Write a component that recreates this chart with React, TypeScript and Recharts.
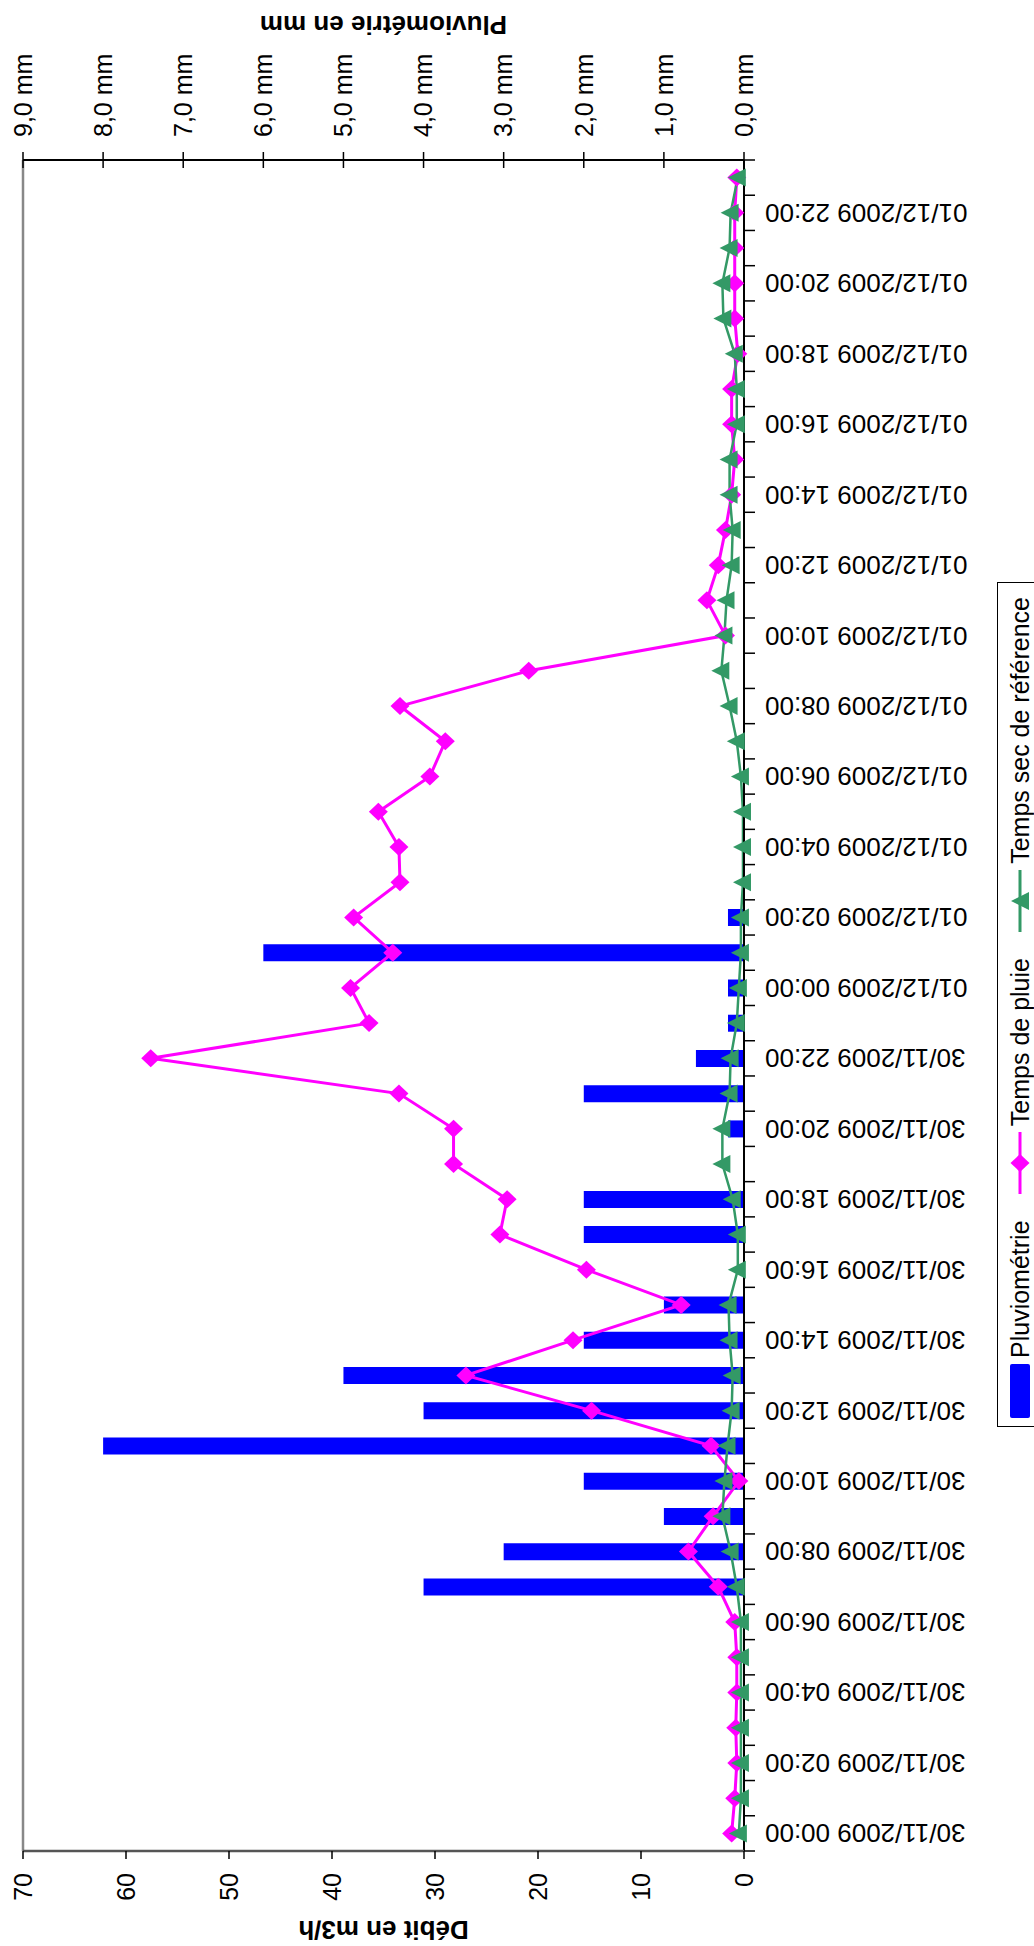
import { Bar, ComposedChart, Legend, Line, ReferenceLine, XAxis, YAxis } from 'recharts';

const FONT = '"Liberation Sans", Arial, sans-serif';
const BLUE = '#0000ff';
const MAGENTA = '#ff00ff';
const GREEN = '#339966';

// chart is drawn landscape, then turned a quarter turn to the left
const W = 1946;
const H = 1034;
const LEFT_W = 95;
const RIGHT_W = 160;
const XAXIS_H = 290;
const TOP = 23;
const BAND = (W - LEFT_W - RIGHT_W) / 48;

const hours = [
  '30/11/2009 00:00', '30/11/2009 01:00', '30/11/2009 02:00', '30/11/2009 03:00', '30/11/2009 04:00', '30/11/2009 05:00',
  '30/11/2009 06:00', '30/11/2009 07:00', '30/11/2009 08:00', '30/11/2009 09:00', '30/11/2009 10:00', '30/11/2009 11:00',
  '30/11/2009 12:00', '30/11/2009 13:00', '30/11/2009 14:00', '30/11/2009 15:00', '30/11/2009 16:00', '30/11/2009 17:00',
  '30/11/2009 18:00', '30/11/2009 19:00', '30/11/2009 20:00', '30/11/2009 21:00', '30/11/2009 22:00', '30/11/2009 23:00',
  '01/12/2009 00:00', '01/12/2009 01:00', '01/12/2009 02:00', '01/12/2009 03:00', '01/12/2009 04:00', '01/12/2009 05:00',
  '01/12/2009 06:00', '01/12/2009 07:00', '01/12/2009 08:00', '01/12/2009 09:00', '01/12/2009 10:00', '01/12/2009 11:00',
  '01/12/2009 12:00', '01/12/2009 13:00', '01/12/2009 14:00', '01/12/2009 15:00', '01/12/2009 16:00', '01/12/2009 17:00',
  '01/12/2009 18:00', '01/12/2009 19:00', '01/12/2009 20:00', '01/12/2009 21:00', '01/12/2009 22:00', '01/12/2009 23:00',
];

// mm
const pluviometrie = [
  0, 0, 0, 0, 0, 0, 0, 4.0, 3.0, 1.0, 2.0, 8.0,
  4.0, 5.0, 2.0, 1.0, 0, 2.0, 2.0, 0, 0.2, 2.0, 0.6, 0.2,
  0.2, 6.0, 0.2, 0, 0, 0, 0, 0, 0, 0, 0, 0,
  0, 0, 0, 0, 0, 0, 0, 0, 0, 0, 0, 0,
];

// m3/h
const tempsPluie = [
  1.2, 0.9, 0.7, 0.8, 0.7, 0.7, 0.9, 2.5, 5.4, 3.0, 0.5, 3.2,
  14.8, 27.0, 16.6, 6.1, 15.3, 23.7, 23.0, 28.2, 28.2, 33.5, 57.6, 36.4,
  38.2, 34.1, 37.9, 33.4, 33.5, 35.5, 30.5, 29.0, 33.4, 20.9, 1.8, 3.6,
  2.5, 1.8, 1.2, 0.9, 1.2, 1.2, 0.6, 0.9, 0.9, 0.9, 0.9, 0.7,
];

const tempsSec = [
  0.5, 0.3, 0.3, 0.3, 0.3, 0.3, 0.3, 0.7, 1.3, 2.1, 1.9, 1.6,
  1.2, 1.1, 1.4, 1.5, 0.6, 0.6, 1.1, 2.1, 2.1, 1.4, 1.3, 0.7,
  0.5, 0.3, 0.3, 0.1, 0.1, 0.1, 0.3, 0.7, 1.4, 2.2, 1.9, 1.7,
  1.2, 1.1, 1.4, 1.4, 0.7, 0.7, 0.9, 2.0, 2.1, 1.4, 1.3, 0.6,
];

const debitTicks = [0, 10, 20, 30, 40, 50, 60, 70];
const pluvioTicks = [0, 1, 2, 3, 4, 5, 6, 7, 8, 9];

const data = hours.map((h, i) => ({
  label: h,
  pluvio: pluviometrie[i],
  pluie: tempsPluie[i],
  sec: tempsSec[i],
}));

const diamond = (cx: number, cy: number) => `M${cx},${cy - 9.5}L${cx + 9},${cy}L${cx},${cy + 9.5}L${cx - 9},${cy}Z`;
const triangle = (cx: number, cy: number) => `M${cx},${cy - 10}L${cx + 9},${cy + 8}L${cx - 9},${cy + 8}Z`;

const DiamondDot = (props: any) => {
  const { cx, cy, index } = props;
  if (cx == null || cy == null) return <g key={`d${index}`} />;
  return <path key={`d${index}`} d={diamond(cx, cy)} fill={MAGENTA} />;
};

const TriangleDot = (props: any) => {
  const { cx, cy, index } = props;
  if (cx == null || cy == null) return <g key={`t${index}`} />;
  return <path key={`t${index}`} d={triangle(cx, cy)} fill={GREEN} />;
};

const TimeTick = (props: any) => {
  const { x, y, payload, index } = props;
  return (
    <g>
      <line x1={x - BAND / 2} x2={x - BAND / 2} y1={y} y2={y + 11} stroke="#000" strokeWidth={1.5} />
      {index === hours.length - 1 && (
        <line x1={x + BAND / 2} x2={x + BAND / 2} y1={y} y2={y + 11} stroke="#000" strokeWidth={1.5} />
      )}
      {index % 2 === 0 && (
        <text
          x={x}
          y={y + 21}
          dy="0.35em"
          textAnchor="end"
          transform={`rotate(-90, ${x}, ${y + 21})`}
          fontFamily={FONT}
          fontSize={26}
          fill="#000"
        >
          {payload.value}
        </text>
      )}
    </g>
  );
};

const PluvioTick = (props: any) => {
  const { x, y, payload } = props;
  return (
    <g>
      <line x1={x - 8} x2={x + 8} y1={y} y2={y} stroke="#000" strokeWidth={1.5} />
      <text x={x + 23} y={y} dy="0.35em" textAnchor="start" fontFamily={FONT} fontSize={25} fill="#000">
        {`${payload.value.toFixed(1).replace('.', ',')} mm`}
      </text>
    </g>
  );
};

const axisTitle = (text: string, dxFromAxisBox: number) => (props: any) => {
  const { viewBox } = props;
  const x = viewBox.x + dxFromAxisBox;
  const y = viewBox.y + viewBox.height / 2;
  return (
    <text
      x={x}
      y={y}
      dy="0.35em"
      textAnchor="middle"
      transform={`rotate(-90, ${x}, ${y})`}
      fontFamily={FONT}
      fontSize={26}
      fontWeight="bold"
      fill="#000"
    >
      {text}
    </text>
  );
};

const LegendMarker = ({ dataKey }: { dataKey: string }) => {
  if (dataKey === 'pluvio') {
    return (
      <svg width={54} height={20}>
        <rect x={0} y={0} width={54} height={20} rx={2} fill={BLUE} />
      </svg>
    );
  }
  const color = dataKey === 'pluie' ? MAGENTA : GREEN;
  return (
    <svg width={62} height={24}>
      <line x1={0} x2={62} y1={12} y2={12} stroke={color} strokeWidth={3} />
      <path d={dataKey === 'pluie' ? diamond(31, 12) : triangle(31, 13)} fill={color} />
    </svg>
  );
};

const LegendBox = (props: any) => {
  const { payload = [] } = props;
  return (
    <div
      style={{
        display: 'flex',
        alignItems: 'center',
        justifyContent: 'space-between',
        border: '1.5px solid #000',
        background: '#fff',
        height: 46,
        padding: '0 14px 0 8px',
        boxSizing: 'border-box',
        fontFamily: FONT,
        fontSize: 25,
        color: '#000',
      }}
    >
      {payload.map((entry: any) => (
        <div key={entry.dataKey} style={{ display: 'flex', alignItems: 'center' }}>
          <LegendMarker dataKey={entry.dataKey} />
          <span style={{ marginLeft: 6, whiteSpace: 'nowrap' }}>{entry.value}</span>
        </div>
      ))}
    </div>
  );
};

export default function App() {
  return (
    <div style={{ width: H, height: W, position: 'relative', overflow: 'hidden', background: '#fff' }}>
      <style>{'body{margin:0}'}</style>
      <div
        style={{
          position: 'absolute',
          left: 0,
          top: 0,
          width: W,
          height: H,
          transformOrigin: '0 0',
          transform: `translateY(${W}px) rotate(-90deg)`,
        }}
      >
        <ComposedChart width={W} height={H} data={data} margin={{ top: TOP, right: 0, bottom: 0, left: 0 }}>
          <XAxis
            dataKey="label"
            height={XAXIS_H}
            interval={0}
            tickSize={0}
            tickMargin={0}
            tickLine={false}
            tick={TimeTick}
            axisLine={{ stroke: '#000', strokeWidth: 2 }}
          />
          <YAxis
            yAxisId="debit"
            width={LEFT_W}
            domain={[0, 70]}
            ticks={debitTicks}
            tickSize={8}
            tickMargin={14}
            tickLine={{ stroke: '#000', strokeWidth: 1.5 }}
            axisLine={{ stroke: '#555', strokeWidth: 2.5 }}
            tick={{ fill: '#000', fontSize: 25, fontFamily: FONT }}
            label={{ content: axisTitle('Débit en m3/h', 16) }}
          />
          <YAxis
            yAxisId="pluvio"
            orientation="right"
            width={RIGHT_W}
            domain={[0, 9]}
            ticks={pluvioTicks}
            tickSize={0}
            tickMargin={0}
            tickLine={false}
            tick={PluvioTick}
            axisLine={{ stroke: '#000', strokeWidth: 2 }}
            label={{ content: axisTitle('Pluviométrie en mm', 135) }}
          />
          <ReferenceLine yAxisId="debit" y={70} stroke="#888" strokeWidth={2.5} />
          <Legend
            layout="horizontal"
            verticalAlign="middle"
            align="center"
            content={LegendBox}
            wrapperStyle={{ left: 519, top: 997, width: 845, height: 46 }}
          />
          <Bar yAxisId="pluvio" dataKey="pluvio" name="Pluviométrie" fill={BLUE} barSize={17} isAnimationActive={false} />
          <Line
            yAxisId="debit"
            dataKey="pluie"
            name="Temps de pluie"
            stroke={MAGENTA}
            strokeWidth={3}
            dot={DiamondDot}
            activeDot={false}
            isAnimationActive={false}
          />
          <Line
            yAxisId="debit"
            dataKey="sec"
            name="Temps sec de référence"
            stroke={GREEN}
            strokeWidth={2.5}
            dot={TriangleDot}
            activeDot={false}
            isAnimationActive={false}
          />
        </ComposedChart>
      </div>
    </div>
  );
}
